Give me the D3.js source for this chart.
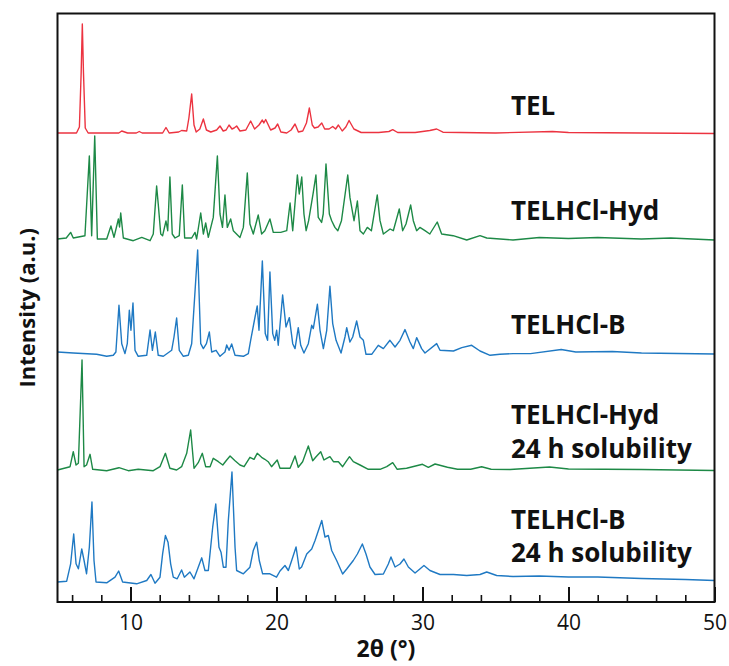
<!DOCTYPE html>
<html>
<head>
<meta charset="utf-8">
<script src="https://cdn.jsdelivr.net/npm/d3@7"></script>
<style>
  html, body { margin: 0; padding: 0; background: white; }
  svg { display: block; }
</style>
</head>
<body>
<div id="container"></div>
<script>
let w = 729;
let h = 666;
let plotL = 57.5, plotR = 714.5, plotT = 13.5, plotB = 602;

// DATA: [2theta, intensity above own baseline]
let tel = [[5,0],[6.3,0],[6.5,6],[6.62,60],[6.7,109],[6.78,60],[6.9,5],[7.1,0],[9.2,0],[9.4,2],[9.6,1],[9.8,0],[10.4,0],[10.6,1.5],[10.8,0],[12.2,0],[12.43,5.5],[12.65,0],[13.3,1],[13.5,2.5],[13.85,2],[14.0,15],[14.19,39],[14.35,8],[14.5,1],[14.75,4],[14.99,14],[15.2,3],[15.5,1],[15.9,3],[16.13,7],[16.35,2],[16.55,3],[16.75,8],[16.95,4],[17.1,5],[17.27,7],[17.5,2],[17.9,3],[18.23,12],[18.5,4],[18.8,8],[19.03,13],[19.13,10],[19.26,13.5],[19.6,3],[19.9,5],[20.08,9],[20.3,1],[20.7,0],[21.0,3],[21.27,9],[21.5,1],[21.8,2],[22.05,10],[22.25,25],[22.45,8],[22.6,5],[22.85,6],[23.1,10],[23.3,4],[23.6,4],[23.85,6.5],[24.05,4],[24.24,8],[24.5,2],[24.75,6],[24.97,12.5],[25.3,4],[25.8,0.5],[27.0,0.5],[27.7,1.5],[27.96,3.3],[28.3,0.5],[29.5,0.5],[30.5,2.5],[30.97,4],[31.4,0.8],[35,0],[38.9,1.5],[40,0.5],[45,0],[50,-0.5]];

let telHyd = [[5,0],[5.6,1],[5.9,6.6],[6.08,1],[6.88,3.3],[7.18,83],[7.34,3.3],[7.55,103],[7.73,0],[8.37,0],[8.66,13],[8.87,1.6],[9.17,20],[9.25,12],[9.33,26],[9.51,1],[10.19,-1.7],[10.77,1.6],[11.34,-1.7],[11.56,5],[11.79,53],[11.9,35],[12.07,5],[12.2,3.3],[12.43,18],[12.55,8.3],[12.7,62],[12.86,5],[13.05,1],[13.34,3.3],[13.55,54],[13.71,1],[14.19,1],[14.42,6.6],[14.53,0],[14.81,26],[14.99,5],[15.15,16],[15.33,1.6],[15.67,21.6],[15.95,83],[16.13,25],[16.3,11.6],[16.47,44],[16.63,11.6],[16.86,20],[17.04,8.3],[17.5,1.6],[17.73,11.6],[18.0,66],[18.18,15],[18.41,5],[18.75,24],[18.98,5],[19.2,8.3],[19.55,20],[19.78,6.6],[20.29,6.6],[20.7,8.3],[20.93,36],[21.11,8.3],[21.43,64],[21.56,45],[21.73,62],[21.88,25],[22.03,8.3],[22.2,18.3],[22.52,46.6],[22.7,64],[22.86,21.6],[23.09,16.6],[23.2,25],[23.39,75],[23.62,25],[23.78,18.3],[24.0,11.6],[24.2,8.3],[24.45,18.3],[24.88,64],[25.03,41.6],[25.31,18.3],[25.54,38],[25.72,8.3],[25.95,5],[26.22,11.6],[26.5,8.3],[26.9,44],[27.09,18.3],[27.32,5],[27.78,10],[28.0,8.3],[28.41,30],[28.64,8.3],[28.87,15],[29.19,34],[29.37,18.3],[29.6,8.3],[29.82,11.6],[30.17,8.3],[30.5,5],[31.01,17],[31.31,5],[32.1,3.3],[33.03,-1],[33.94,3.3],[34.4,1],[36.2,-1],[38,1.5],[40,0.5],[42,1.5],[45,0],[47,1],[50,-1]];

let telB = [[5,0],[6.08,-1],[7.68,-2.3],[8.37,-4.3],[8.82,-3.3],[9.0,0],[9.21,46.7],[9.4,8.3],[9.62,-1.6],[9.78,8.3],[9.92,41.7],[10.03,21.7],[10.17,49],[10.31,1.7],[10.53,-4.3],[11.11,-3.3],[11.34,22],[11.5,1.7],[11.7,20],[11.9,-3.3],[12.25,-4.3],[12.82,1.7],[12.98,15],[13.16,34],[13.34,1.7],[13.62,-4.3],[13.96,-3.3],[14.19,8.3],[14.6,102],[14.81,8.3],[14.99,3.4],[15.2,8.3],[15.4,20],[15.56,0],[15.86,1.7],[16.13,-4.3],[16.47,0],[16.59,7],[16.75,1.7],[16.93,8],[17.16,-3.3],[17.73,-4.3],[18.07,-1.6],[18.23,11.7],[18.53,35],[18.68,46],[18.8,21.7],[19.03,91],[19.23,18.4],[19.39,11.7],[19.55,80],[19.74,18.4],[19.88,11.7],[20.01,21.7],[20.12,6.7],[20.42,57],[20.65,25],[20.88,34.4],[21.11,8.3],[21.27,3.4],[21.49,24.4],[21.66,6.7],[21.88,-1],[22.18,8.3],[22.41,26.7],[22.52,23.4],[22.8,47.7],[22.98,21.7],[23.21,3.4],[23.44,21.7],[23.66,65.7],[23.85,28.4],[24.08,11.7],[24.42,-1],[24.69,15],[24.81,24.4],[25.03,10],[25.22,15],[25.49,31],[25.72,15],[25.95,11.7],[26.13,-2.3],[26.52,-2.3],[26.97,6.7],[27.32,3.4],[27.77,11.7],[28.12,5],[28.46,11.7],[28.8,22.4],[29.14,10],[29.37,3.4],[29.6,14.4],[29.94,3.4],[30.17,-1],[30.97,8.4],[31.2,1.7],[32.12,1],[32.69,4.4],[33.37,6.7],[33.94,1],[34.63,-3.3],[35.3,-2.3],[36.2,-1.6],[37.4,-1.6],[39.5,2.5],[40.5,0],[43,0.5],[45,-1],[50,-2]];

let telHydSol = [[5,0],[5.86,3.3],[6.08,18.3],[6.27,5],[6.43,6.7],[6.68,110],[6.82,3.3],[6.99,5],[7.23,15.7],[7.41,0.7],[8.37,-0.7],[9.21,2.3],[9.85,-0.7],[10.53,0.7],[11.56,-0.7],[12.02,3.3],[12.39,16.7],[12.7,1.7],[13.16,0],[13.5,3.3],[13.85,16.7],[14.12,40],[14.35,1.7],[14.64,7.3],[14.92,16.7],[15.15,3.3],[15.45,3.3],[15.67,11.7],[16.02,8.3],[16.32,5],[16.59,10],[16.82,14],[17.16,9.3],[17.5,5],[17.78,3.3],[18.18,12.7],[18.46,10.7],[18.68,16.7],[18.98,12.7],[19.2,10.7],[19.43,8.3],[19.66,3.3],[20.05,10],[20.24,1.7],[20.93,1.7],[21.27,14],[21.49,2.7],[21.79,8.3],[22.18,24],[22.48,9.3],[22.71,13.3],[23.03,18.3],[23.25,10],[23.44,11.7],[23.66,13.3],[23.9,8.3],[24.24,8.3],[24.53,3.3],[24.76,8.3],[25.0,13.3],[25.26,8.3],[25.72,5],[26.29,0.7],[27.09,0.7],[27.55,3.3],[27.96,7.3],[28.27,0.7],[28.91,1.7],[30.0,5.7],[30.4,2.7],[30.86,6],[31.71,2.7],[32.4,0.7],[33.3,0.7],[34.05,3.3],[34.7,0.7],[36,0.5],[38.7,3],[40,1],[45,0.5],[50,-0.5]];

let telBSol = [[5,0],[5.63,0.8],[5.9,18.2],[6.11,48],[6.27,18.2],[6.43,13.2],[6.66,33],[6.82,21.5],[6.99,8.2],[7.18,34.8],[7.36,80],[7.5,21.5],[7.64,0],[8.37,-0.8],[8.94,4.8],[9.19,11],[9.46,0],[10.42,-1.8],[11.11,1.5],[11.4,7.5],[11.68,-1.2],[12.02,4.8],[12.2,28.2],[12.39,46.5],[12.57,39.8],[12.75,18.2],[12.93,4.8],[13.2,3.2],[13.5,12],[13.69,4.8],[14.07,10],[14.35,3.2],[14.64,14.8],[14.88,24.2],[15.1,11.5],[15.33,11.5],[15.63,54.8],[15.84,78],[16.06,34.8],[16.2,29.8],[16.36,14.8],[16.54,14.8],[16.7,61.5],[16.95,110],[17.16,34.8],[17.27,11.5],[17.73,8.2],[18.18,14.8],[18.41,31.5],[18.64,39.8],[18.82,21.5],[19.05,8.2],[19.55,8.2],[20.0,4.8],[20.24,11],[20.58,16.5],[20.81,11.5],[21.04,21.5],[21.34,35],[21.56,13],[21.72,15],[22.07,28],[22.41,33],[22.64,41.5],[23.1,61.5],[23.32,45],[23.55,46.5],[23.78,31.5],[24.12,21.5],[24.53,8],[24.81,13],[25.26,21.5],[25.54,28],[25.88,38],[26.13,28],[26.4,15],[26.75,7.5],[27.32,8],[27.66,18],[27.84,25],[28.12,15],[28.46,18],[28.73,23],[29.03,15],[29.49,9],[29.82,13],[30.1,16.5],[30.51,11.5],[31.2,7.5],[32.12,7.5],[33.03,6.5],[33.94,7.5],[34.4,10],[35.08,6.5],[36.2,5.5],[38,6],[40,5],[42,5],[45,3.5],[48,2.5],[50,1.5]];

let series = [tel, telHyd, telB, telHydSol, telBSol];
let offsets = [469, 363, 250, 132, 20];
let names = [["TEL"], ["TELHCl-Hyd"], ["TELHCl-B"], ["TELHCl-Hyd", "24 h solubility"], ["TELHCl-B", "24 h solubility"]];
let majorTicks = [10, 20, 30, 40, 50];
let minorTicks = [6, 8, 12, 14, 16, 18, 22, 24, 26, 28, 32, 34, 36, 38, 42, 44, 46, 48];

let colors = ["#ec3340", "#1d8946", "#1f79c3", "#1d8946", "#1f79c3"];
let labelY = [[115], [220], [334], [424, 458], [529, 562]];

// SVG
let viz = d3.select("#container").append("svg")
    .attr("width", w)
    .attr("height", h)
    .style("background-color", "white");

let x = d3.scaleLinear().domain([5, 50]).range([plotL, plotR]);
let y = d3.scaleLinear().domain([0, plotB - plotT]).range([plotB, plotT]);

viz.append("clipPath").attr("id", "plotclip")
  .append("rect").attr("x", plotL).attr("y", plotT).attr("width", plotR - plotL).attr("height", plotB - plotT);

series.forEach((s, i) => {
  let line = d3.line()
    .x(d => x(d[0]))
    .y(d => y(d[1] + offsets[i]));
  viz.append("path")
    .attr("clip-path", "url(#plotclip)")
    .attr("d", line(s))
    .attr("fill", "none")
    .attr("stroke", colors[i])
    .attr("stroke-width", 1.4)
    .attr("stroke-linejoin", "round");
});

// labels
names.forEach((lines, i) => {
  lines.forEach((t, j) => {
    viz.append("text")
      .attr("x", 511)
      .attr("y", labelY[i][j])
      .attr("font-family", "Open Sans")
      .attr("font-weight", "bold")
      .attr("font-size", 26)
      .attr("fill", "#111")
      .text(t);
  });
});

// axes (ticks point into the plot)
let minorAxis = d3.axisBottom(x).tickValues(minorTicks).tickSize(-7).tickFormat("");
let majorAxis = d3.axisBottom(x).tickValues(majorTicks).tickSize(-15).tickPadding(13);

let gMinor = viz.append("g").attr("transform", `translate(0,${plotB})`).call(minorAxis);
gMinor.select(".domain").remove();
gMinor.selectAll("line").attr("stroke", "#111").attr("stroke-width", 1.6);

let gMajor = viz.append("g").attr("transform", `translate(0,${plotB})`).call(majorAxis);
gMajor.select(".domain").remove();
gMajor.selectAll("line").attr("stroke", "#111").attr("stroke-width", 2);
gMajor.selectAll("text")
  .attr("font-family", "Open Sans")
  .attr("font-size", 21)
  .attr("fill", "#111");

// frame
viz.append("rect")
  .attr("x", plotL).attr("y", plotT)
  .attr("width", plotR - plotL).attr("height", plotB - plotT)
  .attr("fill", "none")
  .attr("stroke", "#111")
  .attr("stroke-width", 2);

// axis titles
viz.append("text")
  .attr("x", (plotL + plotR) / 2)
  .attr("y", 657)
  .attr("text-anchor", "middle")
  .attr("font-family", "Open Sans")
  .attr("font-weight", "bold")
  .attr("font-size", 23)
  .attr("fill", "#111")
  .text("2θ (°)");

viz.append("text")
  .attr("transform", `translate(35,${(plotT + plotB) / 2}) rotate(-90)`)
  .attr("text-anchor", "middle")
  .attr("font-family", "Open Sans")
  .attr("font-weight", "bold")
  .attr("font-size", 22)
  .attr("fill", "#111")
  .text("Intensity (a.u.)");
</script>
</body>
</html>
